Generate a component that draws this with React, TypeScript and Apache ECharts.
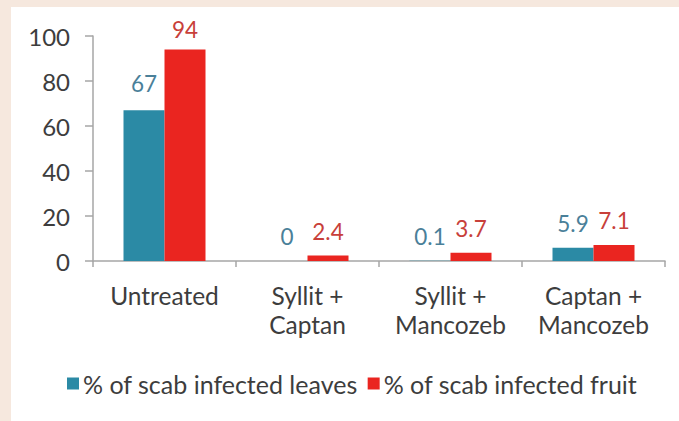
import React, { useEffect, useRef } from "react";
import * as echarts from "echarts";

const categories = ["Untreated", "Syllit +\nCaptan", "Syllit +\nMancozeb", "Captan +\nMancozeb"];
const leavesValues = [67, 0, 0.1, 5.9];
const fruitValues = [94, 2.4, 3.7, 7.1];
const seriesNames = ["% of scab infected leaves", "% of scab infected fruit"];
const yTicks = { min: 0, max: 100, interval: 20 };

const FONT = "Lato";

export default function App() {
  const ref = useRef<HTMLDivElement>(null);
  useEffect(() => {
    document.body.style.margin = "0";
    const chart = echarts.init(ref.current!, null, { renderer: "svg" });
    const labelFor = (color: string) => ({
      show: true,
      position: "top" as const,
      distance: 13,
      color,
      fontFamily: FONT,
      fontSize: 22.5,
    });
    chart.setOption({
      animation: false,
      backgroundColor: "transparent",
      textStyle: { fontFamily: FONT },
      grid: { left: 93, right: 14, top: 36, bottom: 160, containLabel: false },
      legend: {
        left: 67,
        top: 371,
        padding: 0,
        itemWidth: 12,
        itemHeight: 12,
        itemGap: 10,
        icon: "rect",
        textStyle: { fontFamily: FONT, fontSize: 25, color: "#3d3d3d", padding: [0, 0, 0, -1] },
        data: seriesNames,
      },
      xAxis: {
        type: "category",
        data: categories,
        axisLine: { lineStyle: { color: "#a6a6a6", width: 1.5 } },
        axisTick: { show: true, length: 6, lineStyle: { color: "#a6a6a6", width: 1.5 } },
        axisLabel: {
          fontFamily: FONT,
          fontSize: 24.5,
          color: "#3d3d3d",
          margin: 20,
          lineHeight: 29,
          interval: 0,
        },
      },
      yAxis: {
        type: "value",
        min: yTicks.min,
        max: yTicks.max,
        interval: yTicks.interval,
        splitLine: { show: false },
        axisLine: { show: true, lineStyle: { color: "#a6a6a6", width: 1.5 } },
        axisTick: { show: true, length: 8, lineStyle: { color: "#a6a6a6", width: 1.5 } },
        axisLabel: { fontFamily: FONT, fontSize: 24, color: "#3d3d3d", margin: 23 },
      },
      series: [
        {
          name: seriesNames[0],
          type: "bar",
          data: leavesValues.map((v, i) =>
            i === 0 ? { value: v, label: { distance: 15.5 } } : v
          ),
          barWidth: 41,
          barGap: "0%",
          itemStyle: { color: "#2b8aa5" },
          label: labelFor("#4a8099"),
        },
        {
          name: seriesNames[1],
          type: "bar",
          data: fruitValues.map((v, i) =>
            i === 0 ? { value: v, label: { distance: 8.5 } } : v
          ),
          barWidth: 41,
          barGap: "0%",
          itemStyle: { color: "#ea2520" },
          label: labelFor("#c8403a"),
        },
      ],
    });
    return () => chart.dispose();
  }, []);
  return (
    <div style={{ position: "relative", width: 679, height: 421, background: "#f6e8de", overflow: "hidden" }}>
      <div style={{ position: "absolute", left: 11, top: 7, right: 0, bottom: 0, background: "#ffffff" }} />
      <div ref={ref} style={{ position: "absolute", left: 0, top: 0, width: 679, height: 421 }} />
    </div>
  );
}
